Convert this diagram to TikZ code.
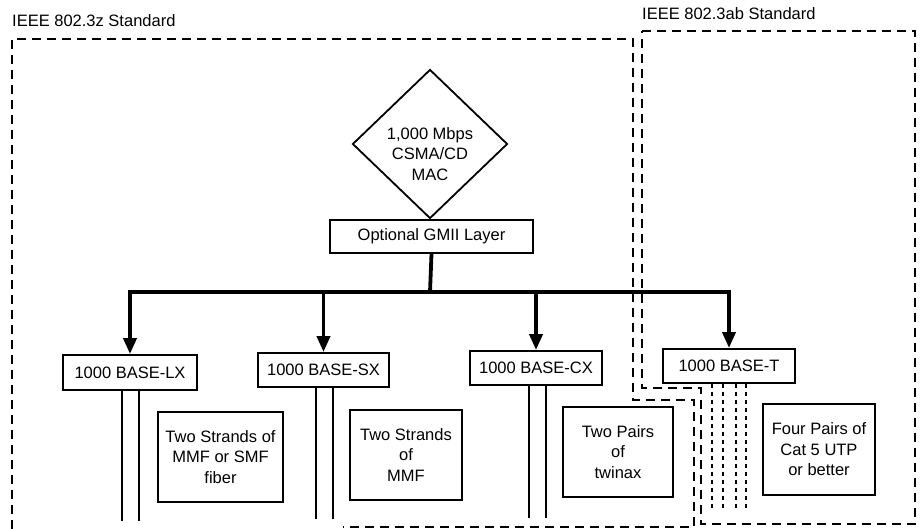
\documentclass[tikz,border=0pt]{standalone}
\usepackage{fontspec}
\setmainfont{Liberation Sans}
\usetikzlibrary{shapes.geometric,arrows.meta}
\begin{document}
\begin{tikzpicture}[x=1pt,y=-1pt,
  every node/.style={font=\fontsize{16.5}{20.5}\selectfont},
  stdbox/.style={draw,line width=1.9pt,inner sep=1pt,align=center},
  region/.style={draw,line width=2.2pt,dash pattern=on 9pt off 6pt},
  busline/.style={line width=3.8pt},
  busarrow/.style={line width=3.8pt,-{Triangle[length=16pt,width=13pt]}},
  cable/.style={line width=1.4pt},
  utp/.style={line width=1.8pt,dash pattern=on 4pt off 4pt}]
\useasboundingbox (0,0) rectangle (922,529);
% regions
\draw[region] (12,529) -- (12,39) -- (633,39) -- (633,400) -- (694,400) -- (694,527) -- (343,527);
\draw[region] (642,31) -- (915,31) -- (915,524) -- (701,524) -- (701,388) -- (642,388) -- cycle;
\node[anchor=base west,inner sep=0] (lz) at (12,27) {IEEE 802.3z Standard};
\node[anchor=base west,inner sep=0] (lab) at (642,20) {IEEE 802.3ab Standard};
% MAC
\node[draw,diamond,line width=1.8pt,minimum width=155pt,minimum height=149pt,inner sep=0] (mac) at (430,144) {};
\node[align=center,inner sep=0] (mactext) at (430,154) {1,000 Mbps\\CSMA/CD\\MAC};
\node[stdbox,minimum width=203pt,minimum height=33pt] (gmii) at (431.5,236.5) {Optional GMII Layer};
% PHY boxes
\node[stdbox,minimum width=134pt,minimum height=35pt] (lx) at (130,372.5) {1000 BASE-LX};
\node[stdbox,minimum width=131pt,minimum height=34pt] (sx) at (323.5,370) {1000 BASE-SX};
\node[stdbox,minimum width=132pt,minimum height=34pt] (cx) at (536,368) {1000 BASE-CX};
\node[stdbox,minimum width=132pt,minimum height=34pt] (t) at (729,366) {1000 BASE-T};
% bus
\coordinate (bus) at (430,292);
\draw[busline] (gmii.south) -- (bus);
\draw[busline,line cap=rect] (lx.north |- bus) -- (t.north |- bus);
\draw[busarrow] (lx.north |- bus) -- (lx.north);
\draw[busarrow] (sx.north |- bus) -- (sx.north);
\draw[busarrow] (cx.north |- bus) -- (cx.north);
\draw[busarrow] (t.north |- bus) -- (t.north);
% media
\draw[cable] ([xshift=-8pt]lx.south) -- ++(0,130);
\draw[cable] ([xshift=9pt]lx.south) -- ++(0,130);
\draw[cable] ([xshift=-7.5pt]sx.south) -- ++(0,131);
\draw[cable] ([xshift=9.5pt]sx.south) -- ++(0,131);
\draw[cable] ([xshift=-7pt]cx.south) -- ++(0,132);
\draw[cable] ([xshift=10pt]cx.south) -- ++(0,132);
\foreach \dx in {-17,-6,7,17}{
  \draw[utp] ([xshift=\dx pt]t.south) -- ++(0,124);
}
% descriptions
\node[stdbox,minimum width=125pt,minimum height=90pt] (lxd) at (220.5,457) {Two Strands of\\MMF or SMF\\fiber};
\node[stdbox,minimum width=112pt,minimum height=90pt] (sxd) at (406,455) {Two Strands\\of\\MMF};
\node[stdbox,minimum width=110pt,minimum height=90pt] (cxd) at (618,452) {Two Pairs\\of\\twinax};
\node[stdbox,minimum width=112pt,minimum height=91pt] (td) at (819,449.5) {Four Pairs of\\Cat 5 UTP\\or better};
\end{tikzpicture}
\end{document}
